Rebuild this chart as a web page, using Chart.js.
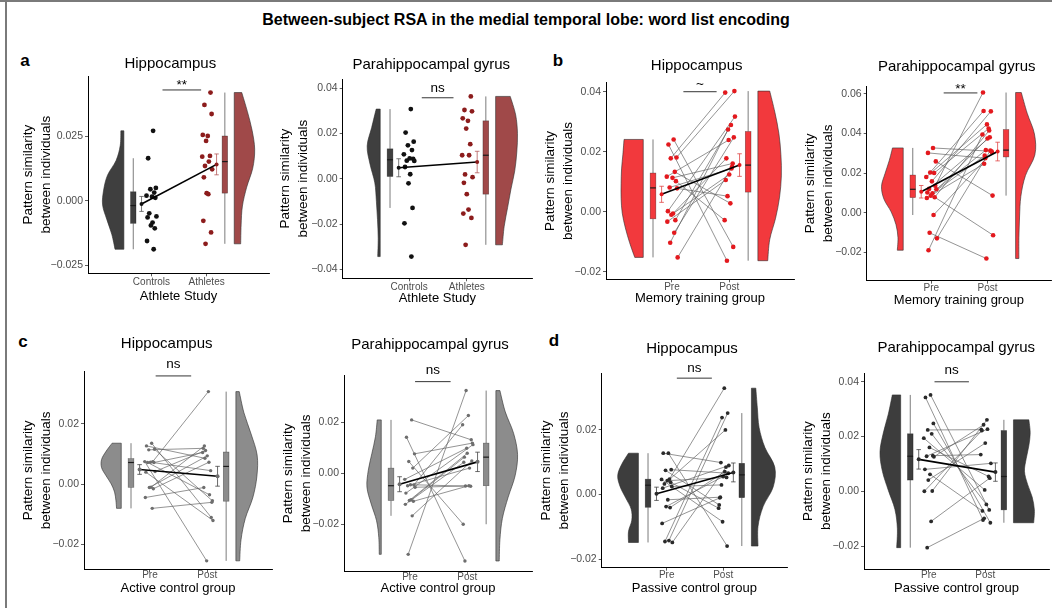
<!DOCTYPE html>
<html>
<head>
<meta charset="utf-8">
<title>Between-subject RSA in the medial temporal lobe</title>
<script src="https://cdn.jsdelivr.net/npm/chart.js@4.4.1/dist/chart.umd.min.js"></script>
<style>
  html, body { margin: 0; padding: 0; overflow: hidden; background: #fff; }
  body { width: 1052px; height: 608px; position: relative; font-family: "Liberation Sans", Arial, sans-serif; }
  #frameTop { position: absolute; left: 0; top: 0; width: 1052px; height: 2px; background: #7a7a7a; }
  #frameLeft { position: absolute; left: 5px; top: 0; width: 2px; height: 608px; background: #7a7a7a; }
  #mainTitle { position: absolute; left: 0; top: 20px; width: 1052px; text-align: center; font-weight: bold; font-size: 16px; line-height: 16px; transform: translateY(-50%); }
  .tag { position: absolute; font-weight: bold; font-size: 17px; line-height: 17px; transform: translate(-50%, -50%); }
  canvas { position: absolute; }
</style>
</head>
<body>
<div id="frameTop"></div>
<div id="frameLeft"></div>
<div id="mainTitle">Between-subject RSA in the medial temporal lobe: word list encoding</div>
<div class="tag" style="left:25px;top:60px">a</div>
<div class="tag" style="left:558px;top:60px">b</div>
<div class="tag" style="left:23px;top:341px">c</div>
<div class="tag" style="left:554px;top:340px">d</div>

<script>
// ---------- data ----------
const TITLES = ["Hippocampus", "Parahippocampal gyrus"];
const ATHLETE_CATS = ["Controls", "Athletes"];
const TIME_CATS = ["Pre", "Post"];
const X_TITLES = ["Athlete Study", "Memory training group", "Active control group", "Passive control group"];
const Y_TITLE = ["Pattern similarity", "between individuals"];
const SIG = ["**", "ns", "~", "**", "ns", "ns", "ns", "ns"];

// a) athlete study, two independent groups
const aHippControls = [0.0271, 0.0165, 0.0050, 0.0045, 0.0032, 0.0020, 0.0016, 0.0012, -0.0048, -0.0060, -0.0064, -0.0084, -0.0095, -0.0106, -0.0155, -0.0187];
const aHippAthletes = [0.0419, 0.0371, 0.0336, 0.0255, 0.0251, 0.0232, 0.0174, 0.0171, 0.0152, 0.0135, 0.0122, 0.0091, 0.0030, 0.0026, -0.0077, -0.0122, -0.0166];
const aPhgControls = [0.0308, 0.0204, 0.0164, 0.0148, 0.0127, 0.0108, 0.0090, 0.0088, 0.0080, 0.0079, 0.0052, 0.0020, -0.0020, -0.0129, -0.0197, -0.0344];
const aPhgAthletes = [0.0364, 0.0304, 0.0298, 0.0267, 0.0256, 0.0222, 0.0153, 0.0104, 0.0104, 0.0019, 0.0007, -0.0018, -0.0068, -0.0136, -0.0154, -0.0173, -0.0292];

// b) memory training group, pre[i] and post[i] belong to the same subject
const bHippPre  = [0.0241, 0.0224, 0.0181, 0.0178, 0.0133, 0.0117, 0.0113, 0.0102, 0.0081, 0.0078, 0.0002, -0.0006, -0.0010, -0.0028, -0.0033, -0.0070, -0.0103, -0.0152];
const bHippPost = [-0.0117, -0.0163, 0.0402, 0.0397, 0.0028, 0.0239, 0.0161, -0.0028, 0.0144, 0.0052, 0.0317, 0.0178, 0.0124, 0.0289, 0.0106, 0.0248, 0.0274, 0.0150];
const bPhgPre  = [0.0327, 0.0302, 0.0259, 0.0203, 0.0200, 0.0180, 0.0158, 0.0136, 0.0120, 0.0118, 0.0102, 0.0098, 0.0085, 0.0078, 0.0074, -0.0012, -0.0102, -0.0130, -0.0190];
const bPhgPost = [0.0310, 0.0275, 0.0086, 0.0514, 0.0425, 0.0446, 0.0512, 0.0607, 0.0381, 0.0316, -0.0114, 0.0288, 0.0375, 0.0415, 0.0247, 0.0305, -0.0232, 0.0314, 0.0395];

// c) active control group
const cHippPre  = [0.0136, 0.0127, 0.0116, 0.0114, 0.0075, 0.0075, 0.0073, 0.0072, 0.0072, 0.0042, 0.0040, -0.0010, -0.0011, -0.0015, -0.0044, -0.0080];
const cHippPost = [-0.0110, 0.0086, -0.0055, 0.0119, 0.0307, -0.0254, 0.0045, 0.0105, -0.0035, 0.0112, -0.0120, 0.0127, 0.0094, 0.0073, -0.0011, -0.0060];
const cPhgPre  = [0.0209, 0.0141, 0.0076, 0.0046, 0.0020, -0.0024, -0.0045, -0.0046, -0.0049, -0.0055, -0.0078, -0.0104, -0.0107, -0.0110, -0.0122, -0.0167, -0.0318];
const cPhgPost = [0.0131, -0.0344, 0.0118, -0.0200, 0.0226, 0.0098, -0.0051, 0.0190, 0.0020, -0.0050, 0.0112, 0.0063, 0.0078, -0.0049, 0.0043, 0.0048, 0.0324];

// d) passive control group
const dHippPre  = [0.0128, 0.0128, 0.0077, 0.0075, 0.0048, 0.0047, 0.0043, 0.0038, 0.0033, 0.0025, 0.0020, -0.0016, -0.0037, -0.0040, -0.0089, -0.0142, -0.0145, -0.0148];
const dHippPost = [-0.0159, 0.0099, 0.0066, -0.0032, 0.0329, -0.0084, 0.0053, -0.0042, 0.0200, 0.0030, 0.0090, -0.0008, 0.0056, 0.0071, -0.0010, 0.0252, 0.0238, 0.0085];
const dPhgPre  = [0.0352, 0.0343, 0.0248, 0.0224, 0.0210, 0.0194, 0.0160, 0.0130, 0.0128, 0.0126, 0.0080, 0.0062, 0.0041, 0.0001, 0.0000, -0.0110, -0.0206];
const dPhgPost = [-0.0068, -0.0105, -0.0115, 0.0225, -0.0048, 0.0005, 0.0054, 0.0134, 0.0227, 0.0243, 0.0102, -0.0072, 0.0176, 0.0261, 0.0222, 0.0048, -0.0099];

// violin density (relative width) at 9 even levels from group min to group max
const aHippDens = [[0.41, 0.56, 0.79, 0.99, 0.94, 0.76, 0.36, 0.17, 0.14], [0.30, 0.32, 0.38, 0.58, 0.86, 0.95, 0.83, 0.61, 0.35]];
const aPhgDens  = [[0.11, 0.09, 0.12, 0.17, 0.24, 0.45, 0.58, 0.38, 0.18], [0.30, 0.38, 0.53, 0.68, 0.85, 0.94, 0.97, 0.89, 0.65]];
const bHippDens = [[0.38, 0.61, 0.80, 0.94, 0.99, 0.99, 0.97, 0.91, 0.86], [0.44, 0.53, 0.79, 0.97, 1.05, 1.03, 0.94, 0.76, 0.53]];
const bPhgDens  = [[0.27, 0.24, 0.33, 0.55, 0.88, 0.99, 0.83, 0.64, 0.49], [0.15, 0.15, 0.18, 0.24, 0.45, 0.88, 0.86, 0.53, 0.26]];
const cHippDens = [[0.21, 0.24, 0.30, 0.45, 0.68, 0.88, 0.88, 0.68, 0.41], [0.17, 0.23, 0.42, 0.76, 0.94, 0.95, 0.68, 0.36, 0.15]];
const cPhgDens  = [[0.09, 0.11, 0.21, 0.45, 0.64, 0.58, 0.42, 0.26, 0.18], [0.15, 0.18, 0.29, 0.55, 0.86, 0.97, 0.79, 0.42, 0.18]];
const dHippDens = [[0.45, 0.45, 0.30, 0.33, 0.58, 0.83, 0.94, 0.76, 0.45], [0.30, 0.30, 0.53, 0.99, 1.06, 0.61, 0.35, 0.27, 0.20]];
const dPhgDens  = [[0.18, 0.15, 0.26, 0.56, 0.83, 0.94, 0.79, 0.56, 0.38], [0.92, 0.95, 0.85, 0.64, 0.50, 0.58, 0.70, 0.76, 0.70]];

// y tick values
const aHippTicks = [-0.025, 0, 0.025];
const aPhgTicks  = [-0.04, -0.02, 0, 0.02, 0.04];
const bHippTicks = [-0.02, 0, 0.02, 0.04];
const bPhgTicks  = [-0.02, 0, 0.02, 0.04, 0.06];
const cHippTicks = [-0.02, 0, 0.02];
const cPhgTicks  = [-0.02, 0, 0.02];
const dHippTicks = [-0.02, 0, 0.02];
const dPhgTicks  = [-0.02, 0, 0.02, 0.04];

// ---------- styles ----------
const FONT = '"Liberation Sans", Arial, sans-serif';
const X_MIN = -0.15, X_MAX = 3.13;
const VIOLIN_W = 0.39, BOX_W = 0.1, CAP_W = 0.08, BOX_OFF = 0.33, MEAN_OFF = 0.18;
const Y_TITLE_SIZE = 13.5, Y_TITLE_LH = 1.33;
const JIT = [0.03, -0.06, 0.08, -0.02, 0.05, -0.09, 0.01, 0.07, -0.04, 0.09, -0.07, 0.02, -0.01, 0.06, -0.08, 0.04, -0.03, 0.10, -0.05, 0.00];

const STYLE_A = { fill: ["#3f3f3f", "#a04949"], point: ["#111111", "#8c1c1c"], err: ["#5a5a5a", "#b45a5a"], r: 2.4 };
const STYLE_B = { fill: ["#f2393d", "#f2393d"], point: ["#e3191e", "#e3191e"], err: ["#e04545", "#e04545"], r: 2.3 };
const STYLE_C = { fill: ["#8c8c8c", "#8c8c8c"], point: ["#6e6e6e", "#6e6e6e"], err: ["#444444", "#444444"], r: 1.7 };
const STYLE_D = { fill: ["#3d3d3d", "#3d3d3d"], point: ["#2a2a2a", "#2a2a2a"], err: ["#444444", "#444444"], r: 1.9 };

const PANELS = [
  { groups: [aHippControls, aHippAthletes], dens: aHippDens, ticks: aHippTicks, dec: 3, cats: ATHLETE_CATS, title: TITLES[0], xTitle: X_TITLES[0], sig: SIG[0], paired: false, style: STYLE_A,
    L: 88, R: 270, T: 76, B: 273.3, yMin: -0.028, yMax: 0.0483, yT: 28.3, xT: 296, xTick: 282.3, tX: 170.3, tY: 64.3, sigX: [1.2, 1.9], sigY: 0.0429, sigDy: -4.5 },
  { groups: [aPhgControls, aPhgAthletes], dens: aPhgDens, ticks: aPhgTicks, dec: 2, cats: ATHLETE_CATS, title: TITLES[1], xTitle: X_TITLES[0], sig: SIG[1], paired: false, style: STYLE_A,
    L: 342.7, R: 533, T: 79, B: 278.3, yMin: -0.044, yMax: 0.0441, yT: 285, xT: 298.3, xTick: 287.3, tX: 431.3, tY: 65, sigX: [1.22, 1.77], sigY: 0.0358, sigDy: -9.5 },
  { groups: [bHippPre, bHippPost], dens: bHippDens, ticks: bHippTicks, dec: 2, cats: TIME_CATS, title: TITLES[0], xTitle: X_TITLES[1], sig: SIG[2], paired: true, style: STYLE_B,
    L: 606, R: 795, T: 82.7, B: 279.3, yMin: -0.0225, yMax: 0.043, yT: 550, xT: 298.6, xTick: 287.7, tX: 696.7, tY: 66, sigX: [1.2, 1.78], sigY: 0.040, sigDy: -7.5 },
  { groups: [bPhgPre, bPhgPost], dens: bPhgDens, ticks: bPhgTicks, dec: 2, cats: TIME_CATS, title: TITLES[1], xTitle: X_TITLES[1], sig: SIG[3], paired: true, style: STYLE_B,
    L: 866.7, R: 1051.7, T: 86, B: 280.7, yMin: -0.0344, yMax: 0.064, yT: 810, xT: 300, xTick: 288.3, tX: 956.7, tY: 66.7, sigX: [1.22, 1.82], sigY: 0.0605, sigDy: -3.5 },
  { groups: [cHippPre, cHippPost], dens: cHippDens, ticks: cHippTicks, dec: 2, cats: TIME_CATS, title: TITLES[0], xTitle: X_TITLES[2], sig: SIG[4], paired: true, style: STYLE_C,
    L: 84, R: 273, T: 371.7, B: 569, yMin: -0.0281, yMax: 0.0373, yT: 28.3, xT: 588.3, xTick: 575.7, tX: 166.7, tY: 344.3, sigX: [1.1, 1.72], sigY: 0.0359, sigDy: -11.7 },
  { groups: [cPhgPre, cPhgPost], dens: cPhgDens, ticks: cPhgTicks, dec: 2, cats: TIME_CATS, title: TITLES[1], xTitle: X_TITLES[2], sig: SIG[5], paired: true, style: STYLE_C,
    L: 344, R: 533, T: 375, B: 571.7, yMin: -0.0386, yMax: 0.0385, yT: 288.3, xT: 588.3, xTick: 577.5, tX: 430, tY: 345, sigX: [1.09, 1.71], sigY: 0.0359, sigDy: -11.7 },
  { groups: [dHippPre, dHippPost], dens: dHippDens, ticks: dHippTicks, dec: 2, cats: TIME_CATS, title: TITLES[0], xTitle: X_TITLES[3], sig: SIG[6], paired: true, style: STYLE_D,
    L: 601.7, R: 788, T: 373.3, B: 567.7, yMin: -0.0226, yMax: 0.0375, yT: 546, xT: 588.3, xTick: 575, tX: 692, tY: 349, sigX: [1.18, 1.8], sigY: 0.036, sigDy: -10 },
  { groups: [dPhgPre, dPhgPost], dens: dPhgDens, ticks: dPhgTicks, dec: 2, cats: TIME_CATS, title: TITLES[1], xTitle: X_TITLES[3], sig: SIG[7], paired: true, style: STYLE_D,
    L: 864, R: 1050, T: 373.3, B: 569, yMin: -0.0284, yMax: 0.0431, yT: 808.3, xT: 588.3, xTick: 575, tX: 956.2, tY: 348.3, sigX: [1.1, 1.71], sigY: 0.04, sigDy: -11.7 }
];

// ---------- helpers ----------
function quantile(s, p) {
  const h = (s.length - 1) * p, lo = Math.floor(h), hi = Math.min(lo + 1, s.length - 1);
  return s[lo] + (h - lo) * (s[hi] - s[lo]);
}

function boxStats(vals) {
  const s = vals.slice().sort((a, b) => a - b);
  const q1 = quantile(s, 0.25), med = quantile(s, 0.5), q3 = quantile(s, 0.75);
  const iqr = q3 - q1;
  const inside = s.filter(v => v >= q1 - 1.5 * iqr && v <= q3 + 1.5 * iqr);
  return { q1, med, q3, lo: inside[0], hi: inside[inside.length - 1] };
}

function meanSe(vals) {
  const n = vals.length;
  const m = vals.reduce((a, b) => a + b, 0) / n;
  const sd = Math.sqrt(vals.reduce((a, v) => a + (v - m) * (v - m), 0) / (n - 1));
  return { mean: m, se: sd / Math.sqrt(n) };
}

function fmt(v, dec) {
  if (Math.abs(v) < 1e-12) return (0).toFixed(dec);
  return (v < 0 ? "\u2212" : "") + Math.abs(v).toFixed(dec);
}

function seg(ctx, x1, y1, x2, y2) {
  ctx.beginPath();
  ctx.moveTo(x1, y1);
  ctx.lineTo(x2, y2);
  ctx.stroke();
}

function drawViolin(ctx, xs, ys, vals, dens, edge, side, fill) {
  const lo = Math.min(...vals), hi = Math.max(...vals);
  const n = dens.length;
  const pts = dens.map((d, i) => [
    xs.getPixelForValue(edge + side * d * VIOLIN_W),
    ys.getPixelForValue(lo + (hi - lo) * i / (n - 1))
  ]);
  const x0 = xs.getPixelForValue(edge);
  ctx.beginPath();
  ctx.moveTo(x0, pts[0][1]);
  ctx.lineTo(pts[0][0], pts[0][1]);
  for (let i = 0; i < n - 1; i++) {
    const p0 = pts[Math.max(i - 1, 0)], p1 = pts[i], p2 = pts[i + 1], p3 = pts[Math.min(i + 2, n - 1)];
    ctx.bezierCurveTo(
      p1[0] + (p2[0] - p0[0]) / 6, p1[1] + (p2[1] - p0[1]) / 6,
      p2[0] - (p3[0] - p1[0]) / 6, p2[1] - (p3[1] - p1[1]) / 6,
      p2[0], p2[1]);
  }
  ctx.lineTo(x0, pts[n - 1][1]);
  ctx.closePath();
  ctx.fillStyle = fill;
  ctx.fill();
  ctx.strokeStyle = "#2b2b2b";
  ctx.lineWidth = 0.6;
  ctx.stroke();
}

function drawBox(ctx, xs, ys, st, cx, fill) {
  const xl = xs.getPixelForValue(cx - BOX_W / 2), xr = xs.getPixelForValue(cx + BOX_W / 2), xc = xs.getPixelForValue(cx);
  ctx.strokeStyle = "#5a5a5a";
  ctx.lineWidth = 0.8;
  seg(ctx, xc, ys.getPixelForValue(st.hi), xc, ys.getPixelForValue(st.q3));
  seg(ctx, xc, ys.getPixelForValue(st.q1), xc, ys.getPixelForValue(st.lo));
  const yt = ys.getPixelForValue(st.q3), yb = ys.getPixelForValue(st.q1);
  ctx.fillStyle = fill;
  ctx.fillRect(xl, yt, xr - xl, yb - yt);
  ctx.strokeStyle = "rgba(0,0,0,0.45)";
  ctx.lineWidth = 0.6;
  ctx.strokeRect(xl, yt, xr - xl, yb - yt);
  ctx.strokeStyle = "#1a1a1a";
  ctx.lineWidth = 1.2;
  const ym = ys.getPixelForValue(st.med);
  seg(ctx, xl, ym, xr, ym);
}

function makeRainPlugin(p, left, top) {
  return {
    id: "rain",
    beforeDatasetsDraw(chart) {
      const ctx = chart.ctx, xs = chart.scales.x, ys = chart.scales.y;
      ctx.save();
      p.groups.forEach((vals, g) => {
        const side = g === 0 ? -1 : 1;
        drawViolin(ctx, xs, ys, vals, p.dens[g], g + 1 + side * 0.5, side, p.style.fill[g]);
        drawBox(ctx, xs, ys, boxStats(vals), g + 1 + side * BOX_OFF, p.style.fill[g]);
      });
      ctx.restore();
    },
    afterDatasetsDraw(chart) {
      const ctx = chart.ctx, xs = chart.scales.x, ys = chart.scales.y;
      const ms = p.groups.map(meanSe);
      const xm = [1 - MEAN_OFF, 2 + MEAN_OFF];
      ctx.save();
      ms.forEach((s, g) => {
        const xc = xs.getPixelForValue(xm[g]);
        const xl = xs.getPixelForValue(xm[g] - CAP_W / 2), xr = xs.getPixelForValue(xm[g] + CAP_W / 2);
        const yh = ys.getPixelForValue(s.mean + s.se), yl = ys.getPixelForValue(s.mean - s.se);
        ctx.strokeStyle = p.style.err[g];
        ctx.lineWidth = 0.8;
        seg(ctx, xc, yh, xc, yl);
        seg(ctx, xl, yh, xr, yh);
        seg(ctx, xl, yl, xr, yl);
      });
      ctx.strokeStyle = "#000";
      ctx.lineWidth = 1.6;
      seg(ctx, xs.getPixelForValue(xm[0]), ys.getPixelForValue(ms[0].mean), xs.getPixelForValue(xm[1]), ys.getPixelForValue(ms[1].mean));
      ms.forEach((s, g) => {
        ctx.fillStyle = p.style.point[g];
        ctx.beginPath();
        ctx.arc(xs.getPixelForValue(xm[g]), ys.getPixelForValue(s.mean), 2, 0, Math.PI * 2);
        ctx.fill();
      });
      ctx.restore();
    },
    afterDraw(chart) {
      const ctx = chart.ctx, xs = chart.scales.x, ys = chart.scales.y;
      ctx.save();
      ctx.fillStyle = "#000";
      ctx.textAlign = "center";
      ctx.textBaseline = "middle";
      ctx.font = "15px " + FONT;
      ctx.fillText(p.title, p.tX - left, p.tY - top);
      const sy = ys.getPixelForValue(p.sigY);
      const sx1 = xs.getPixelForValue(p.sigX[0]), sx2 = xs.getPixelForValue(p.sigX[1]);
      ctx.strokeStyle = "#000";
      ctx.lineWidth = 0.8;
      seg(ctx, sx1, sy, sx2, sy);
      ctx.font = "13.5px " + FONT;
      ctx.fillText(p.sig, (sx1 + sx2) / 2, sy + p.sigDy);
      ctx.restore();
    }
  };
}

function buildDatasets(p) {
  const ds = [];
  const xOf = (g, i) => g + 1 + JIT[(i + g * 7) % JIT.length];
  if (p.paired) {
    p.groups[0].forEach((v, i) => {
      ds.push({
        type: "line",
        data: [{ x: xOf(0, i), y: v }, { x: xOf(1, i), y: p.groups[1][i] }],
        borderColor: "rgba(95,95,95,0.75)",
        borderWidth: 0.9,
        pointRadius: 0,
        fill: false,
        tension: 0,
        order: 2
      });
    });
  }
  p.groups.forEach((vals, g) => {
    ds.push({
      type: "scatter",
      data: vals.map((v, i) => ({ x: xOf(g, i), y: v })),
      pointRadius: p.style.r,
      pointBackgroundColor: p.style.point[g],
      pointBorderWidth: 0,
      order: 1
    });
  });
  return ds;
}

function makePanel(p) {
  const left = Math.round(p.yT - Y_TITLE_SIZE * Y_TITLE_LH / 2);
  const top = Math.round(p.T - 45);
  const right = Math.ceil(p.R + 3);
  const bottom = Math.round(p.xT + 7.8);
  const canvas = document.createElement("canvas");
  canvas.width = right - left;
  canvas.height = bottom - top;
  canvas.style.left = left + "px";
  canvas.style.top = top + "px";
  canvas.style.width = (right - left) + "px";
  canvas.style.height = (bottom - top) + "px";
  document.body.appendChild(canvas);

  const gridOpts = { drawOnChartArea: false, drawTicks: true, tickLength: 3, color: "#333", tickColor: "#333", lineWidth: 0.8 };
  const borderOpts = { display: true, color: "#000", width: 1 };

  new Chart(canvas, {
    type: "scatter",
    data: { datasets: buildDatasets(p) },
    options: {
      responsive: false,
      animation: false,
      events: [],
      layout: { padding: { top: p.T - top, right: right - p.R, left: 0, bottom: 0 } },
      plugins: { legend: { display: false }, tooltip: { enabled: false } },
      scales: {
        x: {
          type: "linear",
          min: X_MIN,
          max: X_MAX,
          afterBuildTicks: s => { s.ticks = [{ value: 1 }, { value: 2 }]; },
          afterFit: s => { s.height = bottom - p.B; },
          ticks: {
            callback: v => p.cats[Math.round(v) - 1],
            color: "#4d4d4d",
            font: { family: FONT, size: 10 },
            padding: p.xTick - p.B - 9,
            maxRotation: 0,
            autoSkip: false
          },
          grid: gridOpts,
          border: borderOpts,
          title: { display: true, text: p.xTitle, color: "#000", font: { family: FONT, size: 13, lineHeight: 1.2 }, padding: { top: 0, bottom: 0 } }
        },
        y: {
          type: "linear",
          min: p.yMin,
          max: p.yMax,
          afterBuildTicks: s => { s.ticks = p.ticks.map(v => ({ value: v })); },
          afterFit: s => { s.width = p.L - left; },
          ticks: {
            callback: v => fmt(v, p.dec),
            color: "#4d4d4d",
            font: { family: FONT, size: 10.5 },
            padding: 2
          },
          grid: gridOpts,
          border: borderOpts,
          title: { display: true, text: Y_TITLE, color: "#000", font: { family: FONT, size: Y_TITLE_SIZE, lineHeight: Y_TITLE_LH }, padding: { top: 0, bottom: 0 } }
        }
      }
    },
    plugins: [makeRainPlugin(p, left, top)]
  });
}

PANELS.forEach(makePanel);
</script>
</body>
</html>
